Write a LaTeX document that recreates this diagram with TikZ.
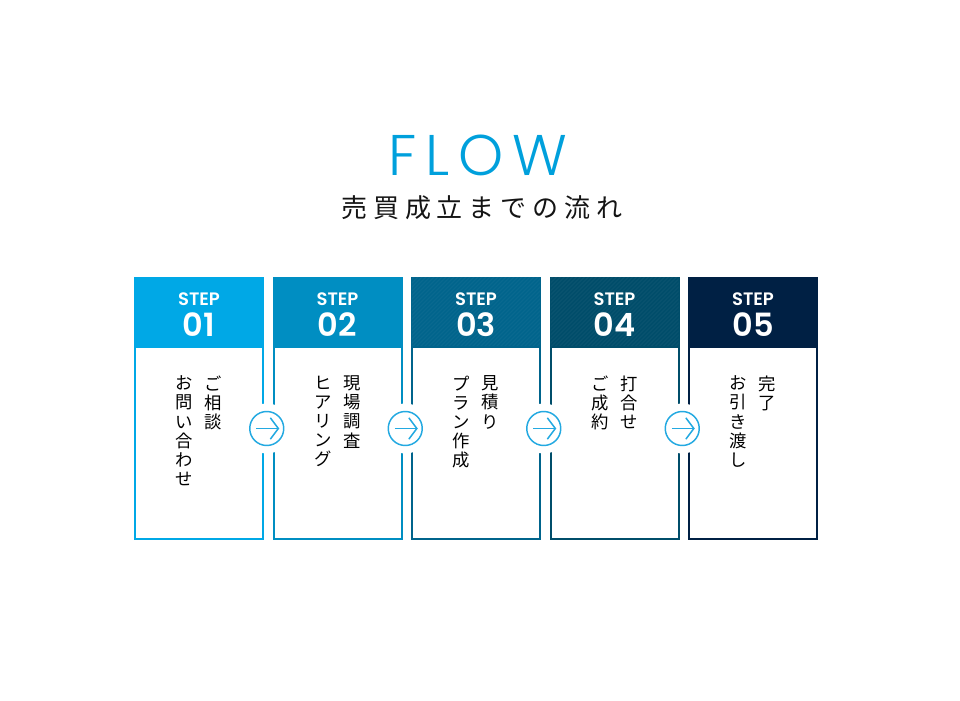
\documentclass[tikz,border=0pt]{standalone}
\usepackage{fontspec}
\usepackage{tikz}
\usetikzlibrary{arrows.meta, positioning, calc}
\usepackage{xcolor}

\newfontfamily\jpfont{Noto Sans CJK JP}
\newfontfamily\jpwidefont[LetterSpace=23]{Noto Sans CJK JP}
\newfontfamily\flowfont[LetterSpace=15]{Poppins Light}
\newfontfamily\stepfont{Poppins SemiBold}

\definecolor{stepA}{RGB}{0,168,230}
\definecolor{stepB}{RGB}{0,142,194}
\definecolor{stepC}{RGB}{0,100,140}
\definecolor{stepD}{RGB}{0,77,106}
\definecolor{stepE}{RGB}{0,32,68}
\definecolor{ringblue}{RGB}{35,169,225}
\definecolor{flowblue}{RGB}{0,160,220}

\begin{document}
\begin{tikzpicture}[x=0.75pt, y=0.75pt,
    head/.style={draw=#1, fill=#1, line width=1.5pt, minimum width=96pt, minimum height=51.75pt, inner sep=0pt, outer sep=0pt},
    body/.style={draw=#1, fill=white, line width=1.5pt, minimum width=96pt, minimum height=144pt, inner sep=0pt, outer sep=0pt},
    steptxt/.style={font=\stepfont\fontsize{13.5}{14}\selectfont, text=white, inner sep=0pt},
    stepnum/.style={font=\stepfont\fontsize{24}{24}\selectfont, text=white, inner sep=0pt},
    vcol/.style={font=\jpfont\fontsize{13}{14.4}\selectfont, align=center, anchor=north, inner sep=0pt},
    ring/.style={circle, draw=ringblue, fill=white, line width=1.1pt, minimum size=25.5pt, inner sep=0pt,
      preaction={draw=white, line width=12pt}},
    arrowline/.style={draw=ringblue, line width=1.1pt, -{Straight Barb[length=6pt, width=16pt]}},
    hatch/.style={draw=white, opacity=0.035, line width=0.8pt}]
  \useasboundingbox (0,0) rectangle (960,700);

  % title
  \node[font=\flowfont\fontsize{43}{43}\selectfont, text=flowblue, inner sep=0pt] (flow) at (478,545) {FLOW};
  \node[font=\jpwidefont\fontsize{19.5}{20}\selectfont, text=black!92, inner sep=0pt] (sub) at (482,492) {売買成立までの流れ};

  % headers
  \node[head=stepA] (h1) at (199,387.5) {};
  \node[head=stepB, right=7.875pt of h1] (h2) {};
  \node[head=stepC, right=7.875pt of h2] (h3) {};
  \node[head=stepD, right=7.875pt of h3] (h4) {};
  \node[head=stepE, right=7.875pt of h4] (h5) {};

  % fine stripes on 03 and 04
  \begin{scope}
    \clip (h3.south west) rectangle (h3.north east);
    \foreach \k in {-72,-68,...,132} \draw[hatch] ($(h3.south west)+(\k,0)$) -- ++(72,72);
  \end{scope}
  \begin{scope}
    \clip (h4.south west) rectangle (h4.north east);
    \foreach \k in {-72,-68,...,132} \draw[hatch] ($(h4.south west)+(\k,0)$) -- ++(72,72);
  \end{scope}

  \node[steptxt] (s1) at ($(h1.center)+(0,13.5)$) {STEP};
  \node[stepnum] (n1) at ($(h1.center)+(0,-12.5)$) {01};
  \node[steptxt] (s2) at ($(h2.center)+(0,13.5)$) {STEP};
  \node[stepnum] (n2) at ($(h2.center)+(0,-12.5)$) {02};
  \node[steptxt] (s3) at ($(h3.center)+(0,13.5)$) {STEP};
  \node[stepnum] (n3) at ($(h3.center)+(0,-12.5)$) {03};
  \node[steptxt] (s4) at ($(h4.center)+(0,13.5)$) {STEP};
  \node[stepnum] (n4) at ($(h4.center)+(0,-12.5)$) {04};
  \node[steptxt] (s5) at ($(h5.center)+(0,13.5)$) {STEP};
  \node[stepnum] (n5) at ($(h5.center)+(0,-12.5)$) {05};

  % bodies
  \node[body=stepA, below=0pt of h1] (b1) {};
  \node[body=stepB, below=0pt of h2] (b2) {};
  \node[body=stepC, below=0pt of h3] (b3) {};
  \node[body=stepD, below=0pt of h4] (b4) {};
  \node[body=stepE, below=0pt of h5] (b5) {};

  % vertical texts (right column first)
  \node[vcol] (v1a) at ($(b1.north)+(14.5,-28.5)$) {ご\\相\\談};
  \node[vcol] (v1b) at ($(b1.north)+(-14.5,-28.5)$) {お\\問\\い\\合\\わ\\せ};
  \node[vcol] (v2a) at ($(b2.north)+(14.5,-28.5)$) {現\\場\\調\\査};
  \node[vcol] (v2b) at ($(b2.north)+(-14.5,-28.5)$) {ヒ\\ア\\リ\\ン\\グ};
  \node[vcol] (v3a) at ($(b3.north)+(14.5,-28.5)$) {見\\積\\り};
  \node[vcol] (v3b) at ($(b3.north)+(-14.5,-28.5)$) {プ\\ラ\\ン\\作\\成};
  \node[vcol] (v4a) at ($(b4.north)+(14.5,-28.5)$) {打\\合\\せ};
  \node[vcol] (v4b) at ($(b4.north)+(-14.5,-28.5)$) {ご\\成\\約};
  \node[vcol] (v5a) at ($(b5.north)+(14.5,-28.5)$) {完\\了};
  \node[vcol] (v5b) at ($(b5.north)+(-14.5,-28.5)$) {お\\引\\き\\渡\\し};

  % arrows between steps
  \node[ring] (c1) at ($($(b1.east)!0.5!(b2.west)$)+(-1.5,14.5)$) {};
  \node[ring] (c2) at ($($(b2.east)!0.5!(b3.west)$)+(-1.5,14.5)$) {};
  \node[ring] (c3) at ($($(b3.east)!0.5!(b4.west)$)+(-1.5,14.5)$) {};
  \node[ring] (c4) at ($($(b4.east)!0.5!(b5.west)$)+(-1.5,14.5)$) {};
  \draw[arrowline] ($(c1)+(-10.5,0)$) -- ($(c1)+(12.5,0)$);
  \draw[arrowline] ($(c2)+(-10.5,0)$) -- ($(c2)+(12.5,0)$);
  \draw[arrowline] ($(c3)+(-10.5,0)$) -- ($(c3)+(12.5,0)$);
  \draw[arrowline] ($(c4)+(-10.5,0)$) -- ($(c4)+(12.5,0)$);
\end{tikzpicture}
\end{document}
